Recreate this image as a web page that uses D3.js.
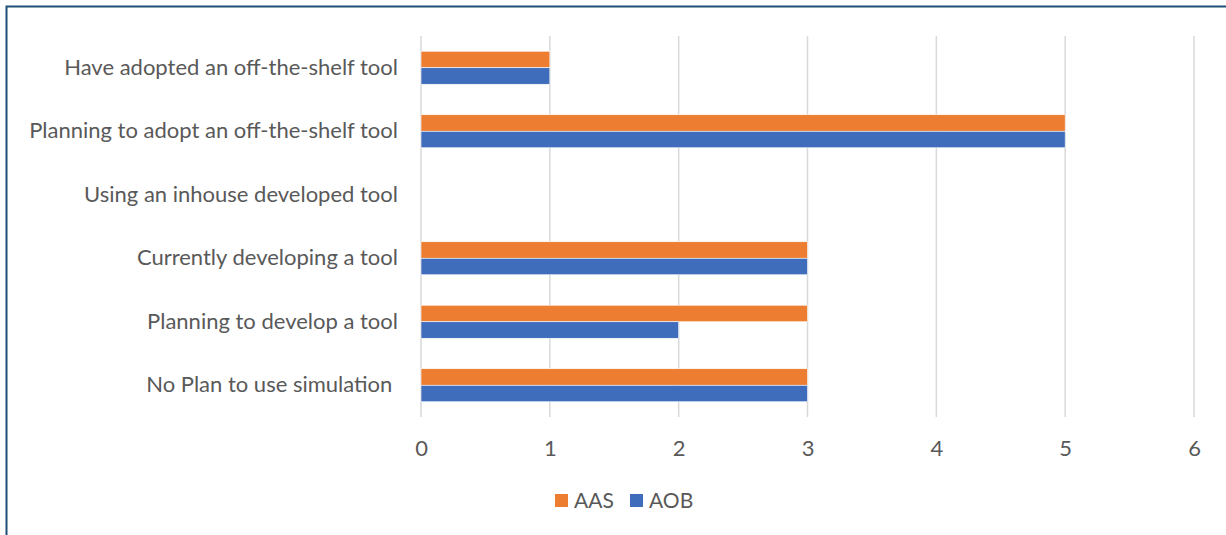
<!DOCTYPE html>
<html>
<head>
<meta charset="utf-8">
<script src="https://cdn.jsdelivr.net/npm/d3@7"></script>
<style>
  html, body { margin: 0; padding: 0; background: #fff; }
  svg { display: block; }
  text { font-family: Lato, "Open Sans", sans-serif; fill: #595959; white-space: pre; }
</style>
</head>
<body>
<svg id="chart" width="1226" height="535"></svg>
<script>
// Tool adoption status, counted per group
const categories = [
  "Have adopted an off-the-shelf tool",
  "Planning to adopt an off-the-shelf tool",
  "Using an inhouse developed tool",
  "Currently developing a tool",
  "Planning to develop a tool",
  "No Plan to use simulation "
];
const seriesNames = ["AAS", "AOB"];
const aasValues = [1, 5, 0, 3, 3, 3];
const aobValues = [1, 5, 0, 3, 2, 3];
const xTicks = [0, 1, 2, 3, 4, 5, 6];
const colors = { AAS: "#ED7D31", AOB: "#406DBB" };

const svg = d3.select("#chart");
const W = 1226, H = 535;
const FONT = 22;

// frame
svg.append("rect").attr("x", 6.5).attr("y", 6.5).attr("width", W + 20).attr("height", H + 20)
  .attr("fill", "#fff").attr("stroke", "#1F4E79").attr("stroke-width", 2);

const plot = { left: 421, right: 1194, top: 36, bottom: 417 };

const x = d3.scaleLinear().domain([0, 6]).range([plot.left, plot.right]);
const y = d3.scaleBand().domain(categories).range([plot.top, plot.bottom]).paddingInner(0.48).paddingOuter(0.24);
const ySub = d3.scaleBand().domain(seriesNames).range([0, y.bandwidth()]);

// vertical gridlines
svg.append("g").selectAll("line").data(xTicks).join("line")
  .attr("x1", d => x(d)).attr("x2", d => x(d))
  .attr("y1", plot.top).attr("y2", plot.bottom)
  .attr("stroke", "#D9D9D9").attr("stroke-width", 1.5);

const rows = categories.map((c, i) => ({ cat: c, AAS: aasValues[i], AOB: aobValues[i] }));

const g = svg.append("g");
rows.forEach(r => {
  seriesNames.forEach(s => {
    if (r[s] > 0) {
      g.append("rect")
        .attr("x", x(0))
        .attr("y", y(r.cat) + ySub(s))
        .attr("width", x(r[s]) - x(0))
        .attr("height", ySub.bandwidth())
        .attr("fill", colors[s])
        .attr("stroke", "#fff").attr("stroke-width", 0.6);
    }
  });
});

// category labels
const yAxis = d3.axisLeft(y).tickSize(0).tickPadding(23);
const ya = svg.append("g").attr("transform", `translate(${plot.left},0)`).call(yAxis);
ya.select(".domain").remove();
ya.selectAll("text").attr("font-size", FONT).style("font-family", "Lato, 'Open Sans', sans-serif").attr("fill", "#595959");

// value axis labels
const xAxis = d3.axisBottom(x).tickValues(xTicks).tickSize(0).tickPadding(23).tickFormat(d3.format("d"));
const xa = svg.append("g").attr("transform", `translate(0,${plot.bottom})`).call(xAxis);
xa.select(".domain").remove();
xa.selectAll("text").attr("font-size", FONT).style("font-family", "Lato, 'Open Sans', sans-serif").attr("fill", "#595959");

// legend
const legend = svg.append("g").attr("transform", "translate(555,501)");
const legendItems = [{ name: "AAS", dx: 0 }, { name: "AOB", dx: 75 }];
legendItems.forEach(it => {
  legend.append("rect").attr("x", it.dx).attr("y", -7).attr("width", 13).attr("height", 13).attr("fill", colors[it.name]);
  legend.append("text").attr("x", it.dx + 19).attr("y", 0).attr("dy", "0.35em")
    .attr("font-size", FONT - 1).text(it.name);
});
</script>
</body>
</html>
